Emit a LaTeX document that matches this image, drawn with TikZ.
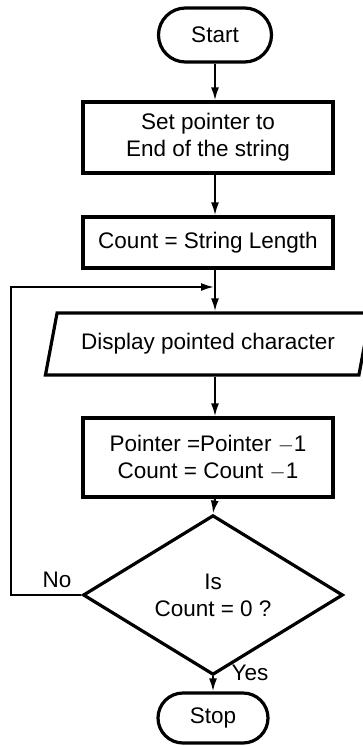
\documentclass[tikz,border=0pt]{standalone}
\usepackage{fontspec}
\setmainfont{Liberation Sans}
\usetikzlibrary{shapes.geometric,shapes.misc,arrows.meta}

\tikzset{
  fbox/.style={draw=black, line width=3.2pt, rectangle, inner sep=0pt, align=center},
  term/.style={draw=black, line width=3.2pt, rounded rectangle, inner sep=0pt},
  iobox/.style={draw=black, line width=3.2pt, trapezium, trapezium left angle=65,
    trapezium right angle=115, trapezium stretches=true, inner sep=0pt},
  decide/.style={draw=black, line width=3.2pt, diamond, inner sep=0pt, align=center},
  flow/.style={black, line width=2pt, -{Latex[length=13pt,width=8pt]}},
  lbl/.style={inner sep=0pt}
}

\begin{document}
\begin{tikzpicture}[x=1pt, y=-1pt, font=\fontsize{22.5}{27}\selectfont]
\useasboundingbox (0,0) rectangle (363,746);

% blocks
\node[term, minimum width=113pt, minimum height=54pt] (start) at (215,35) {Start};
\node[fbox, minimum width=250pt, minimum height=71pt] (setptr) at (208,137.5) {Set pointer to\\End of the string};
\node[fbox, minimum width=250pt, minimum height=51pt] (count) at (208,242.5) {Count = String Length};
\node[iobox, minimum width=326pt, minimum height=62pt] (disp) at (208,344) {Display pointed character};
\node[fbox, minimum width=250pt, minimum height=79pt] (dec) at (208,457.5) {Pointer =Pointer $-$1\\Count = Count $-$1};
\node[decide, minimum width=260pt, minimum height=102pt] (test) at (213,595) {Is\\Count = 0 ?};
\node[term, minimum width=110pt, minimum height=50pt] (stop) at (213,718) {Stop};

\coordinate (jn) at (214,287);

% connectors
\draw[flow] (start.south) -- (start.south |- setptr.north);
\draw[flow] (start.south |- setptr.south) -- (start.south |- count.north);
\draw[flow] (start.south |- count.south) -- (start.south |- disp.north);
\draw[flow] (start.south |- disp.south) -- (start.south |- dec.north);
\draw[flow] (start.south |- dec.south) -- (test.north);
\draw[flow] (test.south) -- (stop.north);

% loop back
\draw[flow] (test.west) -- ++(-70,0) |- (jn);

\node[lbl] (no) at (57,580) {No};
\node[lbl] (yes) at (250,673) {Yes};

\end{tikzpicture}
\end{document}
